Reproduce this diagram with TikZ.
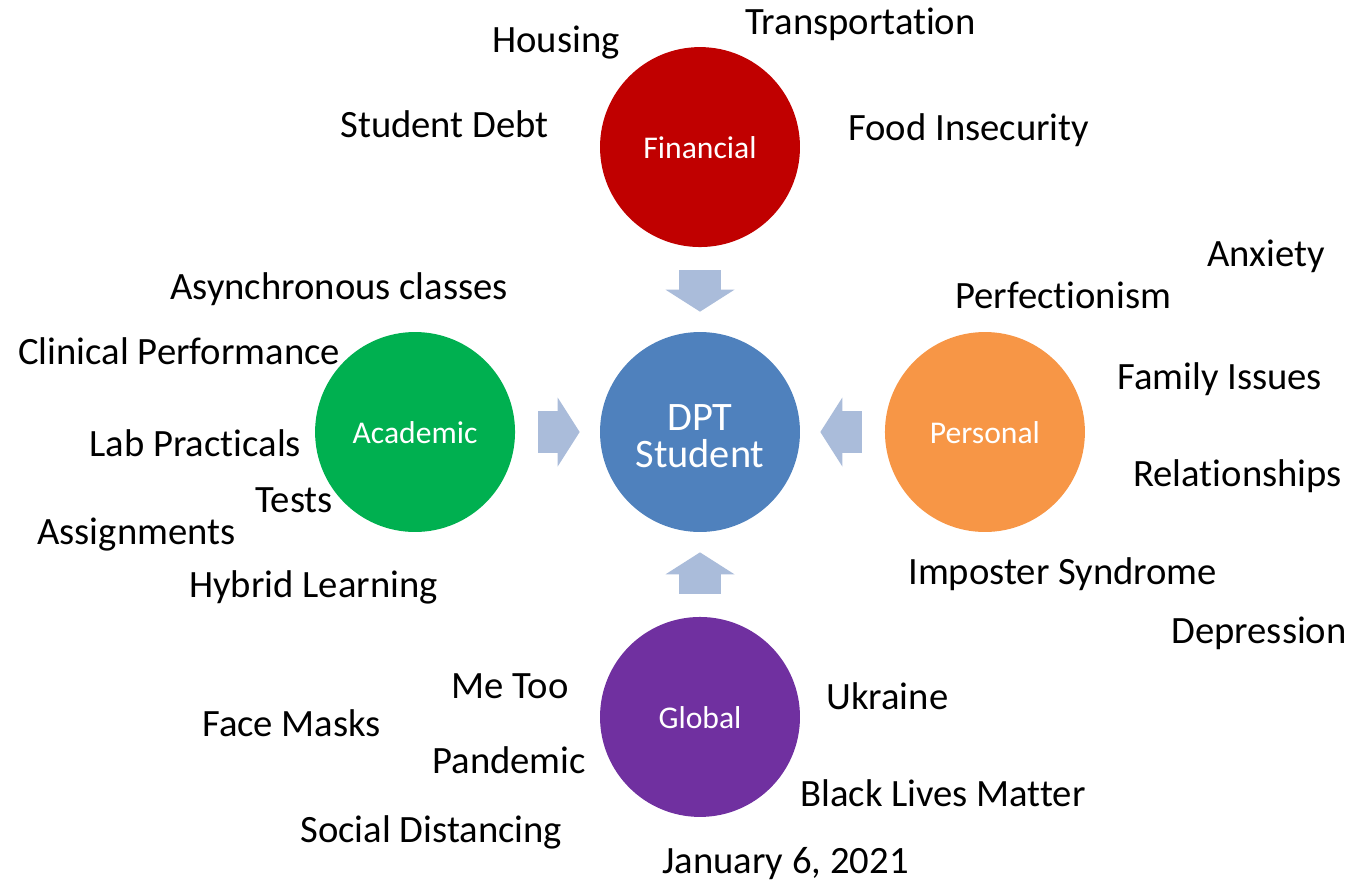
\documentclass[tikz,border=0pt]{standalone}
\usepackage{fontspec}
\setmainfont{Carlito}[Ligatures=NoCommon]
\usetikzlibrary{arrows.meta,positioning}

\definecolor{finRed}{HTML}{C00000}
\definecolor{dptBlue}{HTML}{4F81BD}
\definecolor{acaGreen}{HTML}{00B050}
\definecolor{perOrange}{HTML}{F79646}
\definecolor{gloPurple}{HTML}{7030A0}
\definecolor{arrowBlue}{HTML}{AABCDA}

\tikzstyle{circNode} = [circle, minimum size=4cm, inner sep=0pt, text=white, align=center]
\tikzstyle{areaNode} = [circNode, font={\fontsize{18}{20}\selectfont}, text height=12.6pt, text depth=0pt]
\tikzstyle{dptNode} = [circNode, fill=dptBlue, font={\fontsize{23}{21}\selectfont}]
\tikzstyle{lbl} = [anchor=base west, inner sep=0pt, font={\fontsize{22}{26}\selectfont}, text=black]
\tikzstyle{blockArrow} = [draw=arrowBlue, line width=0.84cm, line cap=butt,
  -{Triangle[length=0.44cm, width=1.36cm]}, shorten <=0.46cm, shorten >=0.40cm]

\begin{document}
\begin{tikzpicture}[x=0.02cm, y=-0.02cm, node distance=5.7cm]
    \useasboundingbox (0,0) rectangle (1352,883);

    \node (dpt) [dptNode] at (700,432) {\rule{0pt}{20pt}DPT\\Student};
    \node (fin) [areaNode, fill=finRed, above of=dpt] {Financial};
    \node (aca) [areaNode, fill=acaGreen, left of=dpt] {Academic};
    \node (per) [areaNode, fill=perOrange, right of=dpt] {Personal};
    \node (glo) [areaNode, fill=gloPurple, below of=dpt] {Global};

    \draw [blockArrow] (fin) -- (dpt);
    \draw [blockArrow] (aca) -- (dpt);
    \draw [blockArrow] (per) -- (dpt);
    \draw [blockArrow] (glo) -- (dpt);

    % financial
    \node (housing) [lbl] at (492,52) {Housing};
    \node (transport) [lbl] at (745,34) {Transportation};
    \node (debt) [lbl] at (340,137) {Student Debt};
    \node (food) [lbl] at (848,140) {Food Insecurity};

    % academic
    \node (async) [lbl] at (170,299) {Asynchronous classes};
    \node (clinical) [lbl] at (18,364) {Clinical Performance};
    \node (lab) [lbl] at (89,456) {Lab Practicals};
    \node (tests) [lbl] at (255,512) {Tests};
    \node (assign) [lbl] at (37,544) {Assignments};
    \node (hybrid) [lbl] at (189,597) {Hybrid Learning};

    % personal
    \node (anxiety) [lbl] at (1207,266) {Anxiety};
    \node (perfect) [lbl] at (955,308) {Perfectionism};
    \node (family) [lbl] at (1117,389) {Family Issues};
    \node (relation) [lbl] at (1133,486) {Relationships};
    \node (imposter) [lbl] at (908,584) {Imposter Syndrome};
    \node (depress) [lbl] at (1171,643) {Depression};

    % global
    \node (metoo) [lbl] at (451,698) {Me Too};
    \node (masks) [lbl] at (202,736) {Face Masks};
    \node (pandemic) [lbl] at (432,773) {Pandemic};
    \node (social) [lbl] at (300,842) {Social Distancing};
    \node (ukraine) [lbl] at (826,709) {Ukraine};
    \node (blm) [lbl] at (800,806) {Black Lives Matter};
    \node (jan) [lbl] at (662,873) {January 6, 2021};

\end{tikzpicture}
\end{document}
